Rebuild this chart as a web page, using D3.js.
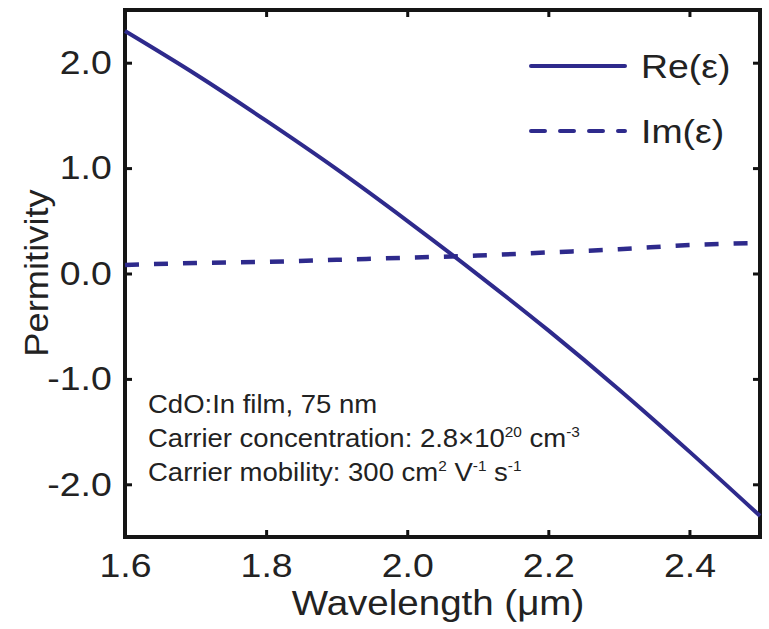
<!DOCTYPE html>
<html>
<head>
<meta charset="utf-8">
<script src="https://cdn.jsdelivr.net/npm/d3@7"></script>
<style>
  body { margin: 0; background: #fff; }
  text { font-family: "Liberation Sans", Arial, sans-serif; fill: #222; }
</style>
</head>
<body>
<svg id="chart"></svg>
<script>
var wavelength = [1.6, 1.7, 1.8, 1.9, 2.0, 2.1, 2.2, 2.3, 2.4, 2.5];
var reEps = [2.30, 1.89, 1.45, 0.99, 0.50, -0.01, -0.54, -1.10, -1.69, -2.30];
var imEps = [0.08, 0.10, 0.11, 0.13, 0.15, 0.17, 0.20, 0.23, 0.27, 0.29];
var xTicks = [1.6, 1.8, 2.0, 2.2, 2.4];
var yTicks = [-2.0, -1.0, 0.0, 1.0, 2.0];
var seriesNames = ['Re(\u03b5)', 'Im(\u03b5)'];
var notes = ['CdO:In film, 75 nm'];

var W = 769, H = 629;
var mLeft = 125, mRight = 760, mTop = 10, mBottom = 537;
var blue = '#2e2a8c';
var stretch = 1.1; // the reference's lettering is a little wide

var svg = d3.select('svg#chart')
    .attr('width', W)
    .attr('height', H);

var x = d3.scaleLinear().domain([1.6, 2.5]).range([mLeft, mRight]);
var y = d3.scaleLinear().domain([-2.5, 2.5]).range([mBottom, mTop]);

var fmt = function (d) { return d.toFixed(1); }; // plain hyphen minus

var placeText = function (sel, tx, ty) {
    return sel.attr('transform', 'translate(' + tx + ',' + ty + ') scale(' + stretch + ',1)');
};

// axes, ticks inward on all four sides
var axisStyle = function (g) {
    g.select('.domain').remove();
    g.selectAll('.tick line').attr('stroke', '#111').attr('stroke-width', 3);
    g.selectAll('.tick text')
        .style('font-family', '"Liberation Sans", Arial, sans-serif')
        .style('font-size', '34px')
        .attr('fill', '#222')
        .attr('transform', 'scale(' + stretch + ',1)');
};

svg.append('g')
    .attr('transform', 'translate(0,' + mBottom + ')')
    .call(d3.axisBottom(x).tickValues(xTicks).tickFormat(fmt).tickSize(-7).tickPadding(16))
    .call(axisStyle);
svg.append('g')
    .attr('transform', 'translate(0,' + mTop + ')')
    .call(d3.axisTop(x).tickValues(xTicks).tickSize(-7).tickFormat(''))
    .call(axisStyle);
svg.append('g')
    .attr('transform', 'translate(' + mLeft + ',0)')
    .call(d3.axisLeft(y).tickValues(yTicks).tickFormat(fmt).tickSize(-7).tickPadding(12))
    .call(axisStyle);
svg.append('g')
    .attr('transform', 'translate(' + mRight + ',0)')
    .call(d3.axisRight(y).tickValues(yTicks).tickSize(-7).tickFormat(''))
    .call(axisStyle);

// frame
svg.append('rect')
    .attr('x', mLeft).attr('y', mTop)
    .attr('width', mRight - mLeft).attr('height', mBottom - mTop)
    .attr('fill', 'none').attr('stroke', '#151515').attr('stroke-width', 4);

var line = function (vals) {
    return d3.line()
        .x(function (d, i) { return x(wavelength[i]); })
        .y(function (d) { return y(d); })
        .curve(d3.curveMonotoneX)(vals);
};

var plot = svg.append('g');
plot.append('path')
    .attr('d', line(imEps))
    .attr('fill', 'none').attr('stroke', blue).attr('stroke-width', 4.5)
    .attr('stroke-dasharray', '14,15');
plot.append('path')
    .attr('d', line(reEps))
    .attr('fill', 'none').attr('stroke', blue).attr('stroke-width', 4);

// legend
var legend = svg.append('g');
seriesNames.forEach(function (name, i) {
    var ly = 66 + i * 65;
    legend.append('line')
        .attr('x1', 531).attr('x2', 625)
        .attr('y1', ly).attr('y2', ly)
        .attr('stroke', blue).attr('stroke-width', 4)
        .attr('stroke-linecap', 'round')
        .attr('stroke-dasharray', i === 0 ? null : '14,15');
    legend.append('text')
        .style('font-size', '34px')
        .call(placeText, 641, ly + 12)
        .text(name);
});

// annotation
var note = svg.append('g').style('font-size', '25px');
note.append('text').call(placeText, 148, 413).text(notes[0]);
var t2 = note.append('text').call(placeText, 148, 447);
t2.append('tspan').text('Carrier concentration: 2.8\u00d710');
t2.append('tspan').attr('dy', -10).style('font-size', '14px').text('20');
t2.append('tspan').attr('dy', 10).text(' cm');
t2.append('tspan').attr('dy', -10).style('font-size', '14px').text('-3');
var t3 = note.append('text').call(placeText, 148, 481);
t3.append('tspan').text('Carrier mobility: 300 cm');
t3.append('tspan').attr('dy', -10).style('font-size', '14px').text('2');
t3.append('tspan').attr('dy', 10).text(' V');
t3.append('tspan').attr('dy', -10).style('font-size', '14px').text('-1');
t3.append('tspan').attr('dy', 10).text(' s');
t3.append('tspan').attr('dy', -10).style('font-size', '14px').text('-1');

// axis titles
svg.append('text')
    .attr('text-anchor', 'middle')
    .style('font-size', '35px')
    .call(placeText, 438, 615)
    .text('Wavelength (\u03bcm)');
svg.append('text')
    .attr('transform', 'translate(48,273) rotate(-90) scale(' + stretch + ',1)')
    .attr('text-anchor', 'middle')
    .style('font-size', '33px')
    .text('Permitivity');
</script>
</body>
</html>
